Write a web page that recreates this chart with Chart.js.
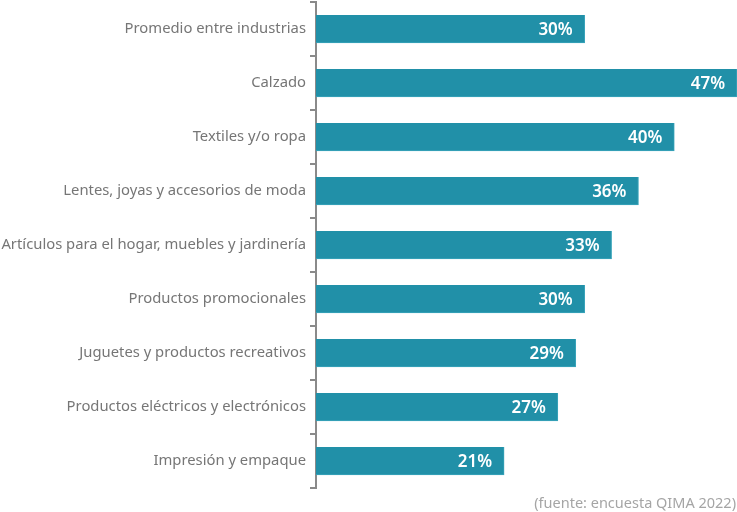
<!DOCTYPE html>
<html>
<head>
<meta charset="utf-8">
<script src="https://cdn.jsdelivr.net/npm/chart.js@4/dist/chart.umd.min.js"></script>
<style>
  html, body { margin: 0; padding: 0; background: #fff; }
  #wrap { width: 737px; height: 512px; }
</style>
</head>
<body>
<div id="wrap"><canvas id="chart"></canvas></div>
<script>
// Categories and values
const categories = [
    'Promedio entre industrias',
    'Calzado',
    'Textiles y/o ropa',
    'Lentes, joyas y accesorios de moda',
    'Artículos para el hogar, muebles y jardinería',
    'Productos promocionales',
    'Juguetes y productos recreativos',
    'Productos eléctricos y electrónicos',
    'Impresión y empaque'
];
const values = [30, 47, 40, 36, 33, 30, 29, 27, 21];
const sourceNote = '(fuente: encuesta QIMA 2022)';

const barColor = '#2190a8';
const fontFamily = '"Noto Sans", Lato, sans-serif';

// Draw the value labels inside the end of each bar, plus the source note
const valueLabels = {
    id: 'valueLabels',
    afterDatasetsDraw(chart) {
        const ctx = chart.ctx;
        const meta = chart.getDatasetMeta(0);
        ctx.save();
        ctx.fillStyle = '#ffffff';
        ctx.font = '600 17px ' + fontFamily;
        ctx.textAlign = 'right';
        ctx.textBaseline = 'middle';
        meta.data.forEach((bar, i) => {
            ctx.fillText(values[i] + '%', bar.x - 12, bar.y + 1);
        });
        ctx.fillStyle = '#a5a5a5';
        ctx.font = '14.5px ' + fontFamily;
        ctx.textBaseline = 'alphabetic';
        ctx.fillText(sourceNote, chart.width - 1, chart.height - 4);
        ctx.restore();
    }
};

const chart = new Chart(document.getElementById('chart').getContext('2d'), {
    type: 'bar',
    data: {
        labels: categories,
        datasets: [{
            data: values,
            backgroundColor: barColor,
            borderColor: '#3aa5bb',
            borderWidth: { right: 1, bottom: 1 },
            borderSkipped: false,
            barThickness: 28
        }]
    },
    options: {
        indexAxis: 'y',
        responsive: true,
        maintainAspectRatio: false,
        animation: false,
        layout: { padding: { top: 2, bottom: 24, right: 0 } },
        plugins: {
            legend: { display: false },
            tooltip: { enabled: false }
        },
        scales: {
            x: {
                display: false,
                min: 0,
                max: 47
            },
            y: {
                afterFit(scale) {
                    scale.width = 316;
                    scale.paddingTop = 0;
                    scale.paddingBottom = 0;
                },
                border: { display: true, color: '#8a8a8a', width: 2 },
                grid: {
                    display: true,
                    drawOnChartArea: false,
                    drawTicks: true,
                    tickLength: 6,
                    color: '#8a8a8a',
                    lineWidth: 2,
                    offset: true
                },
                ticks: {
                    color: '#767676',
                    padding: 4,
                    font: { family: fontFamily, size: 14.8 }
                }
            }
        }
    },
    plugins: [valueLabels]
});
</script>
</body>
</html>
